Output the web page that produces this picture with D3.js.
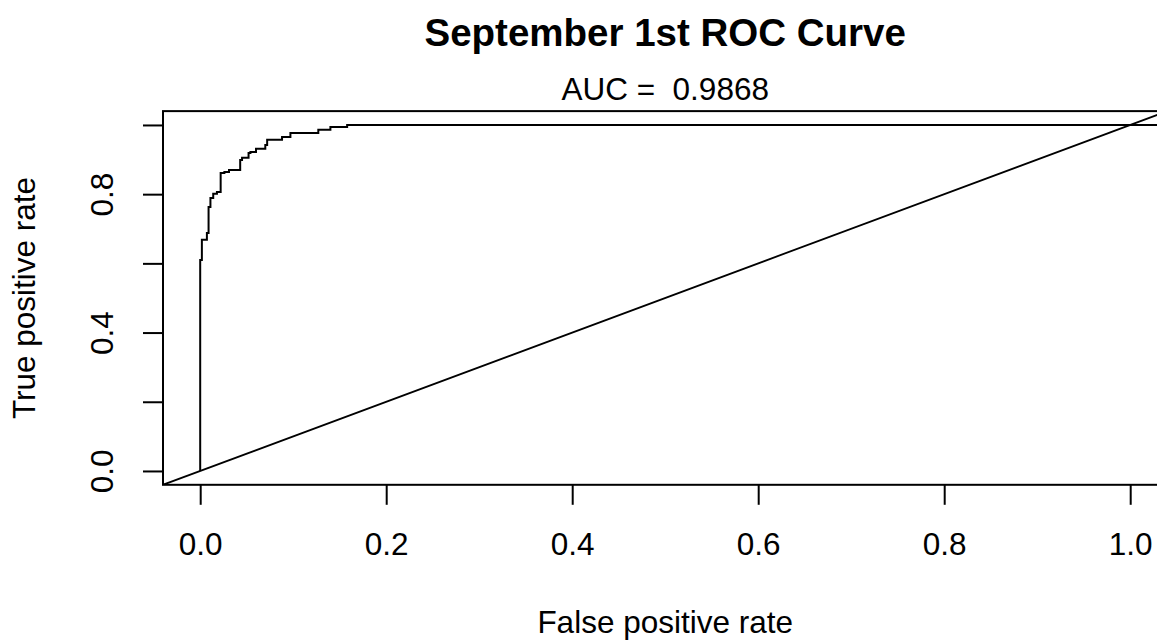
<!DOCTYPE html>
<html>
<head>
<meta charset="utf-8">
<script src="https://cdn.jsdelivr.net/npm/d3@7"></script>
<style>
  html, body { margin: 0; padding: 0; background: #fff; }
  svg { display: block; font-family: "Liberation Sans", Arial, sans-serif; }
  text { white-space: pre; }
</style>
</head>
<body>
<script>
// ---- data ----
const title = "September 1st ROC Curve";
const subtitle = "AUC =  0.9868";
const xLabel = "False positive rate";
const yLabel = "True positive rate";
const xTicks = [0, 0.2, 0.4, 0.6, 0.8, 1.0];
const xTickLabels = ["0.0", "0.2", "0.4", "0.6", "0.8", "1.0"];
const yTicks = [0, 0.2, 0.4, 0.6, 0.8, 1.0];
const yTickLabels = ["0.0", "", "0.4", "", "0.8", ""];
// ROC vertices (fpr, tpr): each point starts a horizontal run at that tpr
const fpr = [0, 0, 0.0018, 0.0072, 0.009, 0.011, 0.014, 0.018, 0.022, 0.026, 0.031, 0.043, 0.045, 0.052, 0.054, 0.060, 0.070, 0.072, 0.088, 0.097, 0.127, 0.140, 0.158, 1.04];
const tpr = [0, 0.610, 0.668, 0.688, 0.763, 0.789, 0.801, 0.806, 0.861, 0.864, 0.870, 0.899, 0.905, 0.919, 0.922, 0.931, 0.942, 0.957, 0.965, 0.977, 0.986, 0.994, 1.0, 1.0];
const diagonal = [[-0.04, -0.04], [1.04, 1.04]];

// ---- layout ----
const W = 1157, H = 641;
const svg = d3.select("body").append("svg").attr("width", W).attr("height", H);

const x = d3.scaleLinear().domain([-0.04, 1.04]).range([163, 163 + 1.08 * 930]);
const y = d3.scaleLinear().domain([-0.04, 1.04]).range([484.8, 484.8 - 1.08 * 346]);

const [x0, x1] = x.range();
const [yb, yt] = y.range();

svg.append("defs").append("clipPath").attr("id", "plotclip")
  .append("rect").attr("x", x0).attr("y", yt).attr("width", x1 - x0).attr("height", yb - yt);

const plot = svg.append("g").attr("clip-path", "url(#plotclip)");

// diagonal
plot.append("line")
  .attr("x1", x(diagonal[0][0])).attr("y1", y(diagonal[0][1]))
  .attr("x2", x(diagonal[1][0])).attr("y2", y(diagonal[1][1]))
  .attr("stroke", "#000").attr("stroke-width", 1.8);

// ROC curve
const pts = fpr.map((f, i) => [f, tpr[i]]);
plot.append("path")
  .datum(pts)
  .attr("d", d3.line().x(d => x(d[0])).y(d => y(d[1])).curve(d3.curveStepAfter))
  .attr("fill", "none").attr("stroke", "#000").attr("stroke-width", 2);

// box
svg.append("rect").attr("x", x0).attr("y", yt).attr("width", x1 - x0).attr("height", yb - yt)
  .attr("fill", "none").attr("stroke", "#000").attr("stroke-width", 2);

// x axis
const xAxis = d3.axisBottom(x).tickValues(xTicks).tickSize(20).tickSizeOuter(0)
  .tickFormat((d, i) => xTickLabels[i]);
const gx = svg.append("g").attr("transform", `translate(0,${yb})`).call(xAxis);
gx.select(".domain").remove();
gx.selectAll(".tick line").attr("stroke", "#000").attr("stroke-width", 2);
gx.selectAll(".tick text").attr("font-size", 31.5).attr("fill", "#000")
  .attr("y", null).attr("dy", null).attr("transform", `translate(0,${555 - yb})`);

// y axis
const yAxis = d3.axisLeft(y).tickValues(yTicks).tickSize(20).tickSizeOuter(0)
  .tickFormat((d, i) => yTickLabels[i]);
const gy = svg.append("g").attr("transform", `translate(${x0},0)`).call(yAxis);
gy.select(".domain").remove();
gy.selectAll(".tick line").attr("stroke", "#000").attr("stroke-width", 2);
gy.selectAll(".tick text").attr("font-size", 31.5).attr("fill", "#000")
  .attr("x", null).attr("dy", null).attr("text-anchor", "middle")
  .attr("transform", `translate(${113 - x0},0) rotate(-90)`);

// titles
const cx = (x0 + x1) / 2;
svg.append("text").attr("x", cx).attr("y", 46).attr("text-anchor", "middle")
  .attr("font-size", 38.5).attr("font-weight", "bold").text(title);
svg.append("text").attr("x", cx).attr("y", 100).attr("text-anchor", "middle")
  .attr("font-size", 31.5).text(subtitle);
svg.append("text").attr("x", cx).attr("y", 633).attr("text-anchor", "middle")
  .attr("font-size", 31.5).text(xLabel);
svg.append("text").attr("transform", `translate(35,${(yt + yb) / 2}) rotate(-90)`)
  .attr("text-anchor", "middle").attr("font-size", 31.5).text(yLabel);
</script>
</body>
</html>
